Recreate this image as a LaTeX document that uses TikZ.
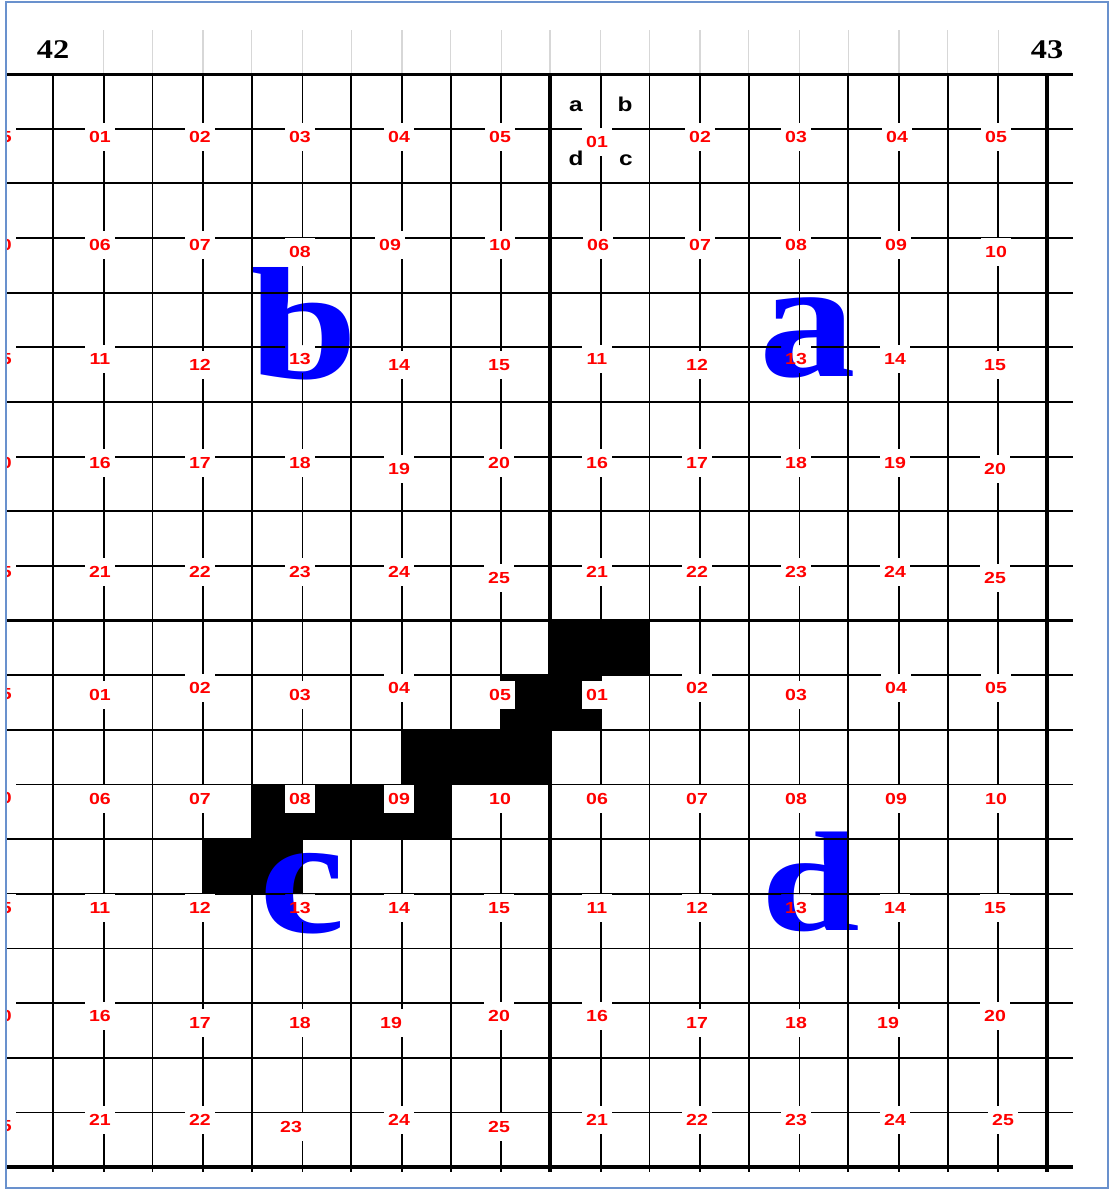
\documentclass[tikz,border=0pt]{standalone}
\usepackage{fontspec}
\usepackage{graphicx}
\newfontfamily\lsans{Liberation Sans}
\newfontfamily\lserif{Liberation Serif}
\definecolor{framec}{RGB}{105,145,205}
\definecolor{tickgray}{RGB}{215,215,215}
\newcommand\hsc[2][1.22]{\scalebox{#1}[1]{#2}}
\tikzset{
  labtext/.style={inner sep=0pt, minimum width=30pt, minimum height=28pt,
    text=red, font=\fontsize{16}{18}\selectfont\lsans\bfseries},
  lab/.style={labtext, fill=white},
  gridthin/.style={line width=1.8pt, black},
  gridthick/.style={line width=3.5pt, black},
  graytick/.style={line width=1.3pt, tickgray},
  bigletter/.style={anchor=base, inner sep=0pt, text=blue},
  cornerletter/.style={anchor=base, inner sep=0pt, text=black,
    font=\fontsize{20}{22}\selectfont\lsans\bfseries},
  sheetno/.style={anchor=base, inner sep=0pt, text=black,
    font=\fontsize{27}{29}\selectfont\lserif\bfseries}
}
% hole (reversed orientation) for clipping around a label box centred at (#1,#2)
\newcommand\labhole[2]{(#1-15,#2-14) -- (#1-15,#2+14) -- (#1+15,#2+14) -- (#1+15,#2-14) -- cycle}
\begin{document}
\begin{tikzpicture}[x=1pt,y=-1pt]
\useasboundingbox (0,0) rectangle (1110,1189);
\fill[white] (0,0) rectangle (1110,1189);

% black staircase
\fill[black] (550,620.5) -- (649.4,620.5) -- (649.4,675.2) -- (600.7,675.2)
  -- (600.7,729.8) -- (550,729.8) -- (550,784.5) -- (450.6,784.5)
  -- (450.6,839.1) -- (302.5,839.1) -- (302.5,893.8) -- (203.1,893.8)
  -- (203.1,839.1) -- (251.8,839.1) -- (251.8,784.5) -- (401.9,784.5)
  -- (401.9,729.8) -- (501.3,729.8) -- (501.3,675.2) -- (550,675.2) -- cycle;

% big blue letters
\node[bigletter, font=\fontsize{160}{162}\selectfont\lserif\bfseries] (bigb) at (304,378) {\hsc[1.22]{b}};
\node[bigletter, font=\fontsize{168}{170}\selectfont\lserif\bfseries] (biga) at (808,376) {\hsc[1.15]{a}};
\node[bigletter, font=\fontsize{168}{170}\selectfont\lserif\bfseries] (bigc) at (302,932) {\hsc[1.15]{c}};
\node[bigletter, font=\fontsize{142}{144}\selectfont\lserif\bfseries] (bigd) at (811,930) {\hsc[1.25]{d}};

% gray ticks above the sheet
\foreach \gx in {103.7,152.4,203.1,251.8,302.5,351.2,401.9,450.6,501.3,550,600.7,649.4,700.1,748.8,799.5,848.2,898.9,947.6,998.3}
  \draw[graytick] (\gx,30) -- (\gx,73);

% grid lines, with gaps around the four labels that lie on the big letters
\begin{scope}
\clip (0,0) -- (1110,0) -- (1110,1189) -- (0,1189) -- cycle
  \labhole{300}{359} \labhole{796}{359} \labhole{300}{908} \labhole{796}{908};
\foreach \gx in {53,103.7,152.4,203.1,251.8,302.5,351.2,401.9,450.6,501.3,600.7,649.4,700.1,748.8,799.5,848.2,898.9,947.6,998.3}
  \draw[gridthin] (\gx,74) -- (\gx,1172);
\foreach \gy in {128.7,183.3,238,292.6,347.3,401.9,456.6,511.2,565.9,675.2,729.8,784.5,839.1,893.8,948.4,1003.1,1057.7,1112.4}
  \draw[gridthin] (6,\gy) -- (1073,\gy);
\end{scope}

% thick lines
\draw[line width=3pt] (6,74) -- (1073,74);
\draw[line width=3pt] (6,620.5) -- (1073,620.5);
\draw[line width=4pt] (6,1167) -- (1073,1167);
\draw[gridthick] (550,74) -- (550,1172);
\draw[line width=4pt] (1047,74) -- (1047,1172);

% labels
\begin{scope}
\clip (7,0) rectangle (1110,1189);
% quadrant b (top left)
\foreach \lx/\ly/\lt [count=\i] in {
  1/137/05, 1/245/10, 1/359/15, 1/463/20, 1/572/25,
  100/137/01, 200/137/02, 300/137/03, 399/137/04, 500/137/05,
  100/245/06, 200/245/07, 300/252/08, 390/245/09, 500/245/10,
  100/359/11, 200/365/12, 399/365/14, 499/365/15,
  100/463/16, 200/463/17, 300/463/18, 399/469/19, 499/463/20,
  100/572/21, 200/572/22, 300/572/23, 399/572/24, 499/578/25}
  \node[lab] (qb\i) at (\lx,\ly) {\hsc{\lt}};
\node[labtext] (qb13) at (300,359) {\hsc{13}};
% quadrant a (top right)
\foreach \lx/\ly/\lt [count=\i] in {
  597/142/01, 700/137/02, 796/137/03, 897/137/04, 996/137/05,
  598/245/06, 700/245/07, 796/245/08, 896/245/09, 996/252/10,
  597/359/11, 697/365/12, 895/359/14, 995/365/15,
  597/463/16, 697/463/17, 796/463/18, 895/463/19, 995/469/20,
  597/572/21, 697/572/22, 796/572/23, 895/572/24, 995/578/25}
  \node[lab] (qa\i) at (\lx,\ly) {\hsc{\lt}};
\node[labtext] (qa13) at (796,359) {\hsc{13}};
% quadrant c (bottom left)
\foreach \lx/\ly/\lt [count=\i] in {
  1/694/05, 1/798/10, 1/908/15, 1/1016/20, 1/1126/25,
  100/695/01, 200/688/02, 300/695/03, 399/688/04, 500/695/05,
  100/799/06, 200/799/07, 300/799/08, 399/799/09, 500/799/10,
  100/908/11, 200/908/12, 399/908/14, 499/908/15,
  100/1016/16, 200/1023/17, 300/1023/18, 391/1023/19, 499/1016/20,
  100/1120/21, 200/1120/22, 291/1127/23, 399/1120/24, 499/1127/25}
  \node[lab] (qc\i) at (\lx,\ly) {\hsc{\lt}};
\node[labtext] (qc13) at (300,908) {\hsc{13}};
% quadrant d (bottom right)
\foreach \lx/\ly/\lt [count=\i] in {
  597/695/01, 697/688/02, 796/695/03, 896/688/04, 996/688/05,
  597/799/06, 697/799/07, 796/799/08, 896/799/09, 996/799/10,
  597/908/11, 697/908/12, 895/908/14, 995/908/15,
  597/1016/16, 697/1023/17, 796/1023/18, 888/1023/19, 995/1016/20,
  597/1120/21, 697/1120/22, 796/1120/23, 895/1120/24, 1003/1120/25}
  \node[lab] (qd\i) at (\lx,\ly) {\hsc{\lt}};
\node[labtext] (qd13) at (796,908) {\hsc{13}};
\end{scope}

% corner letters of sheet 01
\node[cornerletter] (ka) at (576,111) {\hsc{a}};
\node[cornerletter] (kb) at (625,111) {\hsc{b}};
\node[cornerletter] (kd) at (576,165) {\hsc{d}};
\node[cornerletter] (kc) at (626,165) {\hsc{c}};

% sheet numbers
\node[sheetno] (n42) at (53,58) {\hsc[1.2]{42}};
\node[sheetno] (n43) at (1047,58) {\hsc[1.2]{43}};

% frame
\draw[framec, line width=1.5pt] (6,2) rectangle (1108,1188);
\end{tikzpicture}
\end{document}
